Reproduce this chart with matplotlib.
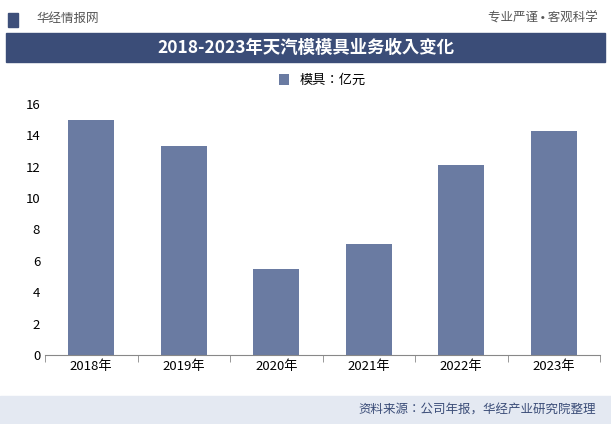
import matplotlib
matplotlib.use("Agg")
import matplotlib.pyplot as plt
from matplotlib.patches import Rectangle
from matplotlib import font_manager as fm

names = sorted({f.name for f in fm.fontManager.ttflist})
cjk = [n for n in names if "CJK" in n or "Noto Sans SC" in n]
plt.rcParams["font.family"] = "sans-serif"
plt.rcParams["font.sans-serif"] = cjk + ["DejaVu Sans"]

years = ["2018年", "2019年", "2020年", "2021年", "2022年", "2023年"]
values = [15.0, 13.35, 5.5, 7.05, 12.1, 14.3]
series_name = "模具：亿元"
yticks = [0, 2, 4, 6, 8, 10, 12, 14, 16]

W, H = 611, 424
fig = plt.figure(figsize=(W/100, H/100), dpi=100)
fig.patch.set_facecolor("white")

fig.add_artist(Rectangle((8/W, 1-27/H), 10/W, 14/H, transform=fig.transFigure, color="#3D4F7A"))
fig.text(36/W, 1-18/H, "华经情报网", fontsize=9, color="#555555", va="center")
fig.text(598/W, 1-18/H, "专业严谨 • 客观科学", fontsize=9, color="#555555", va="center", ha="right")
fig.add_artist(Rectangle((6/W, 1-62/H), (W-12)/W, 29/H, transform=fig.transFigure, color="#3B4D78"))
fig.text(0.5, 1-47.5/H, "2018-2023年天汽模模具业务收入变化", fontsize=12.5, color="white",
         fontweight="bold", ha="center", va="center")

fig.add_artist(Rectangle((0, 0), 1, 28/H, transform=fig.transFigure, color="#E4E9F2"))
fig.text(596/W, 14/H, "资料来源：公司年报，华经产业研究院整理", fontsize=9, color="#3B4D78",
         ha="right", va="center")

ax = fig.add_axes([45/W, 1-355/H, 555/W, 251/H])
ax.bar(years, values, width=0.5, color="#6A7BA2", label=series_name)
ax.set_ylim(0, 16)
ax.set_yticks(yticks)
ax.set_xlim(-0.5, 5.5)
ax.tick_params(axis="y", length=0, labelsize=9.5)
ax.set_xticks([i - 0.5 for i in range(7)], minor=True)
ax.tick_params(axis="x", which="major", length=0, labelsize=9.5)
ax.tick_params(axis="x", which="minor", length=5, color="#888888")
for s in ["top", "right", "left"]:
    ax.spines[s].set_visible(False)
ax.spines["bottom"].set_color("#888888")
ax.legend(loc="lower center", bbox_to_anchor=(0.5, 1.02), frameon=False, fontsize=9.5,
          handlelength=0.8, handleheight=0.8)

fig.savefig("out.png", dpi=100)
